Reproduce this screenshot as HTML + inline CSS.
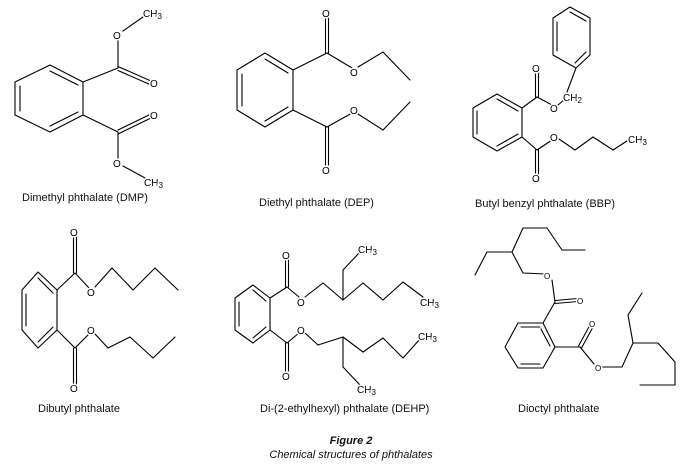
<!DOCTYPE html>
<html><head><meta charset="utf-8"><style>
html,body{margin:0;padding:0;background:#fff;}
svg{display:block}
.b{stroke:#000;stroke-width:1.1;fill:none;stroke-linecap:round;stroke-linejoin:round}
.a{font-family:"Liberation Sans",sans-serif;font-size:10px;fill:#000;stroke:#fff;stroke-width:3px;paint-order:stroke;}
.c{font-family:"Liberation Sans",sans-serif;font-size:11px;fill:#111;}
</style></head><body>
<svg width="681" height="475" viewBox="0 0 681 475" xmlns="http://www.w3.org/2000/svg">
<g class="b">
<!-- DMP -->
<polygon points="50,65 83,82 83,115 50,132 15,115 15,82"/>
<line x1="50" y1="71" x2="78" y2="85"/><line x1="78" y1="112" x2="50" y2="126"/><line x1="20" y1="86" x2="20" y2="111"/>
<line x1="83" y1="82" x2="118" y2="68"/><line x1="118" y1="68" x2="118" y2="38"/>
<line x1="118" y1="66.5" x2="151" y2="81"/><line x1="118" y1="70.5" x2="151" y2="85"/>
<line x1="123" y1="31" x2="143" y2="17"/>
<line x1="83" y1="115" x2="118" y2="132"/><line x1="118" y1="132" x2="118" y2="160"/>
<line x1="118" y1="130" x2="151" y2="114"/><line x1="118" y1="134" x2="151" y2="118"/>
<line x1="123" y1="166" x2="145" y2="178"/>
<!-- DEP -->
<polygon points="265,53 293,70 293,110 265,127 237,110 237,70"/>
<line x1="265" y1="59" x2="288" y2="73"/><line x1="288" y1="107" x2="265" y2="121"/><line x1="242" y1="74" x2="242" y2="106"/>
<line x1="293" y1="70" x2="327" y2="53"/><line x1="325.5" y1="53" x2="325.5" y2="17"/><line x1="328.5" y1="53" x2="328.5" y2="17"/>
<line x1="327" y1="53" x2="352" y2="68"/><line x1="358" y1="67" x2="383" y2="52"/><line x1="383" y1="52" x2="410" y2="80"/>
<line x1="293" y1="110" x2="327" y2="127"/><line x1="325.5" y1="127" x2="325.5" y2="165"/><line x1="328.5" y1="127" x2="328.5" y2="165"/>
<line x1="327" y1="127" x2="352" y2="113"/><line x1="358" y1="114" x2="383" y2="130"/><line x1="383" y1="130" x2="410" y2="102"/>
<!-- BBP -->
<polygon points="497,94 522,108 522,137 497,151 473,137 473,108"/>
<line x1="497" y1="99" x2="518" y2="111"/><line x1="518" y1="134" x2="497" y2="146"/><line x1="477" y1="111" x2="477" y2="134"/>
<line x1="522" y1="108" x2="537" y2="97"/><line x1="535.5" y1="97" x2="535.5" y2="72"/><line x1="538.5" y1="97" x2="538.5" y2="72"/>
<line x1="537" y1="97" x2="552" y2="105"/><line x1="558" y1="105" x2="564" y2="100"/>
<polygon points="570,7 590,18 590,55 576,68 553,55 553,18"/>
<line x1="570" y1="12" x2="586" y2="21"/><line x1="586" y1="52" x2="575" y2="63"/><line x1="557" y1="22" x2="557" y2="51"/>
<line x1="576" y1="68" x2="567" y2="92"/>
<line x1="522" y1="137" x2="537" y2="150"/><line x1="535.5" y1="150" x2="535.5" y2="174"/><line x1="538.5" y1="150" x2="538.5" y2="174"/>
<line x1="537" y1="150" x2="552" y2="140"/><line x1="559" y1="139" x2="575" y2="150"/><line x1="575" y1="150" x2="593" y2="137"/><line x1="593" y1="137" x2="613" y2="150"/><line x1="613" y1="150" x2="630" y2="139"/>
<!-- DBP -->
<polygon points="38,272 57,290 57,330 38,348 22,330 22,290"/>
<line x1="38" y1="278" x2="53" y2="293"/><line x1="53" y1="327" x2="38" y2="342"/><line x1="26" y1="294" x2="26" y2="326"/>
<line x1="57" y1="290" x2="75" y2="273"/><line x1="73.5" y1="273" x2="73.5" y2="236"/><line x1="76.5" y1="273" x2="76.5" y2="236"/>
<line x1="75" y1="273" x2="89" y2="288"/><line x1="95" y1="287" x2="112" y2="268"/><line x1="112" y1="268" x2="133" y2="290"/><line x1="133" y1="290" x2="155" y2="268"/><line x1="155" y1="268" x2="178" y2="290"/>
<line x1="57" y1="330" x2="75" y2="348"/><line x1="73.5" y1="348" x2="73.5" y2="384"/><line x1="76.5" y1="348" x2="76.5" y2="384"/>
<line x1="75" y1="348" x2="89" y2="334"/><line x1="95" y1="334" x2="108" y2="348"/><line x1="108" y1="348" x2="130" y2="337"/><line x1="130" y1="337" x2="153" y2="358"/><line x1="153" y1="358" x2="175" y2="337"/>
<!-- DEHP -->
<polygon points="253,285 270,298 270,330 253,343 235,330 235,298"/>
<line x1="253" y1="290" x2="266" y2="301"/><line x1="266" y1="327" x2="253" y2="338"/><line x1="239" y1="302" x2="239" y2="326"/>
<line x1="270" y1="298" x2="287" y2="287"/><line x1="285.5" y1="287" x2="285.5" y2="259"/><line x1="288.5" y1="287" x2="288.5" y2="259"/>
<line x1="287" y1="287" x2="299" y2="297"/><line x1="305" y1="297" x2="323" y2="283"/><line x1="323" y1="283" x2="343" y2="300"/>
<line x1="343" y1="300" x2="343" y2="270"/><line x1="343" y1="270" x2="360" y2="252"/>
<line x1="343" y1="300" x2="363" y2="283"/><line x1="363" y1="283" x2="383" y2="300"/><line x1="383" y1="300" x2="403" y2="282"/><line x1="403" y1="282" x2="423" y2="297"/>
<line x1="270" y1="330" x2="287" y2="343"/><line x1="285.5" y1="343" x2="285.5" y2="371"/><line x1="288.5" y1="343" x2="288.5" y2="371"/>
<line x1="287" y1="343" x2="299" y2="333"/><line x1="305" y1="333" x2="318" y2="345"/><line x1="318" y1="345" x2="343" y2="337"/>
<line x1="343" y1="337" x2="343" y2="367"/><line x1="343" y1="367" x2="360" y2="385"/>
<line x1="343" y1="337" x2="363" y2="352"/><line x1="363" y1="352" x2="383" y2="338"/><line x1="383" y1="338" x2="403" y2="358"/><line x1="403" y1="358" x2="420" y2="339"/>
<!-- DOP -->
<polyline points="475,275 487,252 512,252 523,228 547,228 562,250 585,250"/>
<polyline points="512,252 523,273 545,274"/>
<line x1="552" y1="280" x2="555" y2="302"/>
<line x1="555" y1="300.5" x2="578" y2="298.5"/><line x1="555" y1="303.5" x2="578" y2="301.5"/>
<polygon points="518,323 543,323 555,347 543,368 518,368 505,347"/>
<line x1="521" y1="327" x2="540" y2="327"/><line x1="521" y1="364" x2="540" y2="364"/><line x1="541" y1="329" x2="550" y2="346"/>
<line x1="543" y1="323" x2="555" y2="302"/>
<line x1="555" y1="347" x2="580" y2="347"/>
<line x1="578.5" y1="346" x2="590" y2="325"/><line x1="581.5" y1="348" x2="593" y2="327"/>
<line x1="580" y1="347" x2="594" y2="364"/>
<polyline points="600,367 622,367 633,343 628,315 642,293"/>
<polyline points="633,343 658,343 675,362 675,385 640,385"/>
</g>
<g class="a">
<text x="113" y="39">O</text><text x="143" y="17">CH<tspan font-size="8" dy="2">3</tspan></text>
<text x="150" y="87">O</text><text x="150" y="119">O</text>
<text x="113" y="167">O</text><text x="144" y="186">CH<tspan font-size="8" dy="2">3</tspan></text>
<text x="322" y="17">O</text><text x="350" y="76">O</text><text x="350" y="114">O</text><text x="322" y="174">O</text>
<text x="532" y="72">O</text><text x="550" y="112">O</text><text x="563" y="101">CH<tspan font-size="8" dy="2">2</tspan></text>
<text x="550" y="141">O</text><text x="532" y="182">O</text><text x="628" y="143">CH<tspan font-size="8" dy="2">3</tspan></text>
<text x="70" y="236">O</text><text x="87" y="296">O</text><text x="87" y="334">O</text><text x="70" y="392">O</text>
<text x="282" y="259">O</text><text x="297" y="306">O</text><text x="297" y="334">O</text><text x="282" y="380">O</text>
<text x="358" y="253">CH<tspan font-size="8" dy="2">3</tspan></text><text x="420" y="306">CH<tspan font-size="8" dy="2">3</tspan></text>
<text x="418" y="340">CH<tspan font-size="8" dy="2">3</tspan></text><text x="357" y="393">CH<tspan font-size="8" dy="2">3</tspan></text>
<text x="544" y="279" font-size="8">O</text><text x="577" y="304" font-size="8">O</text>
<text x="589" y="327" font-size="8">O</text><text x="595" y="371" font-size="8">O</text>
</g>
<g class="c">
<text x="22" y="201">Dimethyl phthalate (DMP)</text>
<text x="259" y="206">Diethyl phthalate (DEP)</text>
<text x="475" y="207">Butyl benzyl phthalate (BBP)</text>
<text x="38" y="412">Dibutyl phthalate</text>
<text x="260" y="412">Di-(2-ethylhexyl) phthalate (DEHP)</text>
<text x="518" y="412">Dioctyl phthalate</text>
<text x="351" y="444" text-anchor="middle" font-weight="bold" font-style="italic">Figure 2</text>
<text x="351" y="458" text-anchor="middle" font-style="italic">Chemical structures of phthalates</text>
</g>
</svg>
</body></html>
